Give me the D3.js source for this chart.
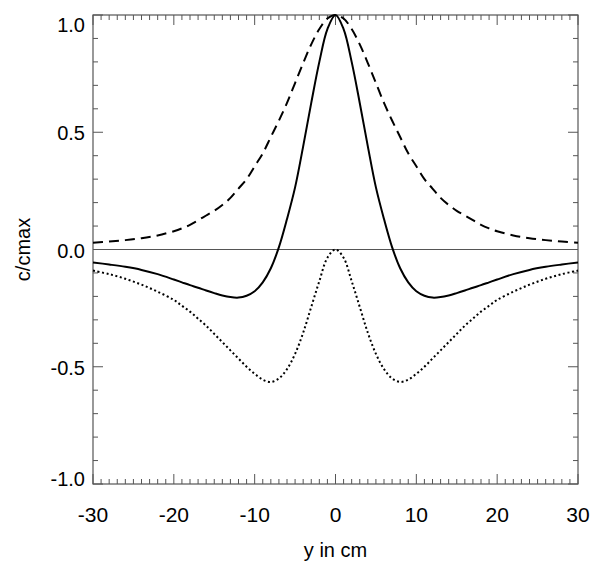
<!DOCTYPE html>
<html>
<head>
<meta charset="utf-8">
<script src="https://cdn.jsdelivr.net/npm/d3@7"></script>
<style>
  body { margin: 0; background: #fff; }
  text { font-family: "Liberation Sans", Arial, sans-serif; fill: #000; }
</style>
</head>
<body>
<div id="chart"></div>
<script>
// chart data
const yPos = [-30,-28,-26,-24,-22,-20,-19,-18,-17,-16,-15,-14,-13,-12,-11,-10,-9,-8,-7,-6,-5,-4,-3,-2,-1,
              0,1,2,3,4,5,6,7,8,9,10,11,12,13,14,15,16,17,18,19,20,22,24,26,28,30];

// dashed curve
const dashedVals = [0.029,0.034,0.040,0.048,0.060,0.078,0.090,0.105,0.125,0.145,0.165,0.19,0.22,0.26,0.30,0.355,0.41,0.48,0.55,0.625,0.71,0.795,0.875,0.94,0.985,
                    1.0,0.985,0.94,0.875,0.795,0.71,0.625,0.55,0.48,0.41,0.355,0.30,0.26,0.22,0.19,0.165,0.145,0.125,0.105,0.090,0.078,0.060,0.048,0.040,0.034,0.029];

// solid curve
const solidVals = [-0.055,-0.064,-0.074,-0.087,-0.105,-0.128,-0.14,-0.152,-0.163,-0.175,-0.186,-0.196,-0.203,-0.205,-0.197,-0.178,-0.14,-0.08,0.01,0.13,0.265,0.44,0.625,0.80,0.94,
                   1.0,0.94,0.80,0.625,0.44,0.265,0.13,0.01,-0.08,-0.14,-0.178,-0.197,-0.205,-0.203,-0.196,-0.186,-0.175,-0.163,-0.152,-0.14,-0.128,-0.105,-0.087,-0.074,-0.064,-0.055];

// dotted curve
const dottedVals = [-0.09,-0.105,-0.125,-0.15,-0.18,-0.215,-0.24,-0.265,-0.295,-0.325,-0.36,-0.395,-0.43,-0.465,-0.50,-0.53,-0.555,-0.565,-0.55,-0.51,-0.445,-0.355,-0.245,-0.135,-0.035,
                    0,-0.035,-0.135,-0.245,-0.355,-0.445,-0.51,-0.55,-0.565,-0.555,-0.53,-0.50,-0.465,-0.43,-0.395,-0.36,-0.325,-0.295,-0.265,-0.24,-0.215,-0.18,-0.15,-0.125,-0.105,-0.09];

const xTicks = [-30,-20,-10,0,10,20,30];
const yTicks = [-1.0,-0.5,0.0,0.5,1.0];

const width = 600, height = 568;
const margin = {top: 15, right: 22, bottom: 84, left: 93};

const svg = d3.select("#chart")
  .append("svg")
  .attr("width", width)
  .attr("height", height);

let xScale = d3.scaleLinear()
  .domain([-30, 30])
  .range([margin.left, width - margin.right]);

let yScale = d3.scaleLinear()
  .domain([-1, 1])
  .range([height - margin.bottom, margin.top]);

const axisColor = "#555";
const x0 = xScale.range()[0], x1 = xScale.range()[1];
const yb = yScale.range()[0], yt = yScale.range()[1];

// frame
svg.append("rect")
  .attr("x", x0).attr("y", yt)
  .attr("width", x1 - x0).attr("height", yb - yt)
  .attr("fill", "none")
  .attr("stroke", axisColor)
  .attr("stroke-width", 1.2);

// x ticks, bottom and top, pointing inward
const xMinor = d3.range(-30, 31, 1);
xMinor.forEach(v => {
  const len = (v % 10 === 0) ? 10 : 5;
  const px = xScale(v);
  svg.append("line").attr("x1", px).attr("x2", px).attr("y1", yb).attr("y2", yb - len)
    .attr("stroke", axisColor).attr("stroke-width", 1);
  svg.append("line").attr("x1", px).attr("x2", px).attr("y1", yt).attr("y2", yt + len)
    .attr("stroke", axisColor).attr("stroke-width", 1);
});

// y ticks, left and right
const yMinor = d3.range(-10, 11, 1).map(k => k / 10);
yMinor.forEach(v => {
  const len = (Math.round(v * 10) % 5 === 0) ? 10 : 5;
  const py = yScale(v);
  svg.append("line").attr("x1", x0).attr("x2", x0 + len).attr("y1", py).attr("y2", py)
    .attr("stroke", axisColor).attr("stroke-width", 1);
  svg.append("line").attr("x1", x1).attr("x2", x1 - len).attr("y1", py).attr("y2", py)
    .attr("stroke", axisColor).attr("stroke-width", 1);
});

// tick labels (plain hyphen for minus, like the original)
svg.selectAll(".xlab")
  .data(xTicks)
  .enter()
  .append("text")
    .attr("class", "xlab")
    .attr("x", d => xScale(d))
    .attr("y", yb + 38)
    .attr("text-anchor", "middle")
    .attr("font-size", "21px")
    .text(d => String(d));

svg.selectAll(".ylab")
  .data(yTicks)
  .enter()
  .append("text")
    .attr("class", "ylab")
    .attr("x", x0 - 8)
    .attr("y", d => {
      if (d === 1) return yScale(d) + 17;
      if (d === -1) return yScale(d) + 2;
      return yScale(d) + 8;
    })
    .attr("text-anchor", "end")
    .attr("font-size", "20px")
    .text(d => d.toFixed(1));

// axis titles
svg.append("text")
  .attr("x", (x0 + x1) / 2)
  .attr("y", 557)
  .attr("text-anchor", "middle")
  .attr("font-size", "20px")
  .text("y in cm");

svg.append("text")
  .attr("transform", `translate(30,${yScale(0)}) rotate(-90)`)
  .attr("text-anchor", "middle")
  .attr("font-size", "20px")
  .text("c/cmax");

// zero line
svg.append("line")
  .attr("x1", x0).attr("x2", x1)
  .attr("y1", yScale(0)).attr("y2", yScale(0))
  .attr("stroke", "#555")
  .attr("stroke-width", 1);

// curves
const line = d3.line()
  .x(d => xScale(d[0]))
  .y(d => yScale(d[1]))
  .curve(d3.curveCatmullRom.alpha(0.5));

const series = [
  {vals: dashedVals, dash: "10,6"},
  {vals: solidVals, dash: null},
  {vals: dottedVals, dash: "2,2.6"}
];

series.forEach(s => {
  svg.append("path")
    .datum(yPos.map((p, i) => [p, s.vals[i]]))
    .attr("d", line)
    .attr("fill", "none")
    .attr("stroke", "#000")
    .attr("stroke-width", 2)
    .attr("stroke-dasharray", s.dash);
});
</script>
</body>
</html>
